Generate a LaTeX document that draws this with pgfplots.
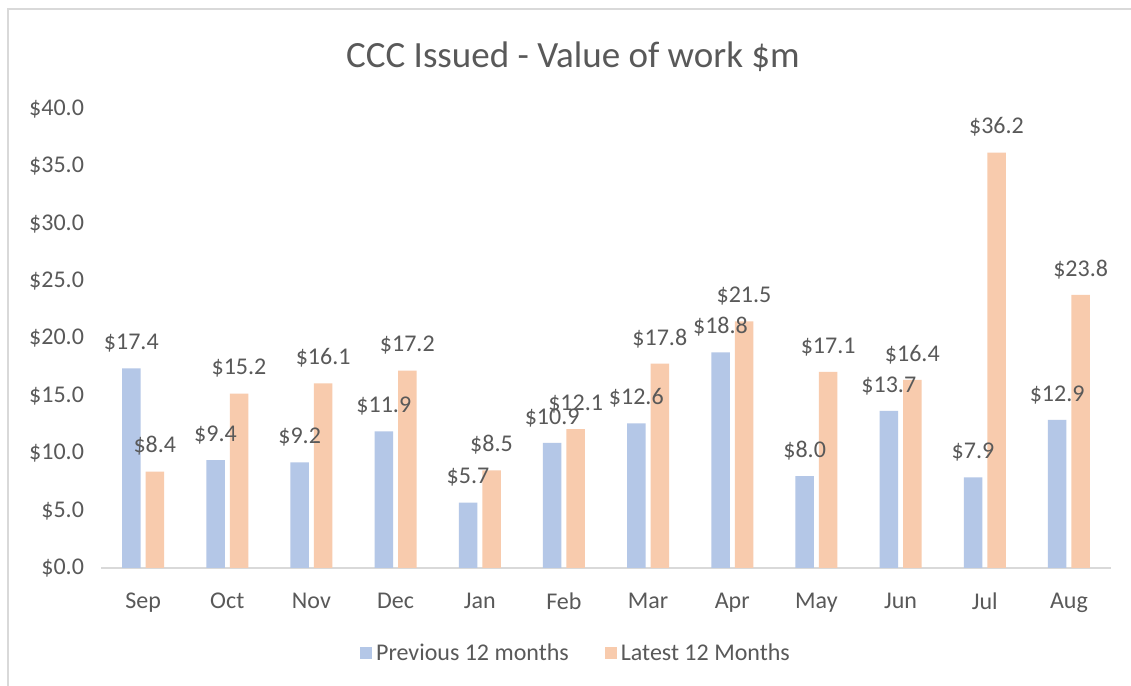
\documentclass[border=0pt]{standalone}
\usepackage{fontspec}
\setmainfont{Carlito}
\usepackage{pgfplots}
\pgfplotsset{compat=1.18}
\definecolor{txt}{HTML}{595959}
\definecolor{lgray}{HTML}{D9D9D9}
\definecolor{cblue}{HTML}{B4C7E7}
\definecolor{corange}{HTML}{F8CBAD}
\begin{document}
\begin{tikzpicture}
\useasboundingbox (0,0) rectangle (565.5pt,343pt);
\fill[white] (0,0) rectangle (565.5pt,343pt);
\draw[lgray, line width=1pt] (3.75pt,-5pt) -- (3.75pt,338.5pt) -- (575pt,338.5pt);
\node[font=\fontsize{18.5}{22}\selectfont, text=txt] at (286.5pt,314.5pt) {CCC Issued - Value of work \$m};
\begin{axis}[
  at={(50.5pt,59pt)}, anchor=south west,
  scale only axis, width=505pt, height=229.5pt,
  xmin=-0.5, xmax=11.5, ymin=0, ymax=40,
  ybar=2.5pt, bar width=9.25pt,
  /pgf/number format/assume math mode=true,
  xtick=data,
  xticklabels={Sep,Oct,Nov,Dec,Jan,Feb,Mar,Apr,May,Jun,Jul,Aug},
  ytick={0,5,...,40},
  yticklabel={\$\pgfmathprintnumber[fixed,fixed zerofill,precision=1]{\tick}},
  tick label style={font=\fontsize{12}{14}\selectfont, text=txt},
  xticklabel style={yshift=-9pt},
  yticklabel style={xshift=-5pt},
  major tick length=0pt,
  axis lines*=left,
  axis line style={-},
  x axis line style={draw=lgray, line width=1pt},
  y axis line style={draw=none},
  nodes near coords={\$\pgfmathprintnumber[fixed,fixed zerofill,precision=1]{\pgfplotspointmeta}},
  every node near coord/.append style={font=\fontsize{12}{14}\selectfont, text=txt, yshift=4.5pt},
  legend columns=2,
  legend style={draw=none, at={(0.4713,-0.1875)}, anchor=center, font=\fontsize{12}{14}\selectfont, text=txt,
    /tikz/every even column/.append style={column sep=16pt}},
  legend image code/.code={\fill[#1] (0pt,-2.5pt) rectangle (6pt,3.5pt);},
  clip=false,
]
\addplot[fill=cblue, draw=none] coordinates {(0,17.4) (1,9.4) (2,9.2) (3,11.9) (4,5.7) (5,10.9) (6,12.6) (7,18.8) (8,8.0) (9,13.7) (10,7.9) (11,12.9)};
\addplot[fill=corange, draw=none] coordinates {(0,8.4) (1,15.2) (2,16.1) (3,17.2) (4,8.5) (5,12.1) (6,17.8) (7,21.5) (8,17.1) (9,16.4) (10,36.2) (11,23.8)};
\legend{Previous 12 months, Latest 12 Months}
\end{axis}
\end{tikzpicture}
\end{document}
